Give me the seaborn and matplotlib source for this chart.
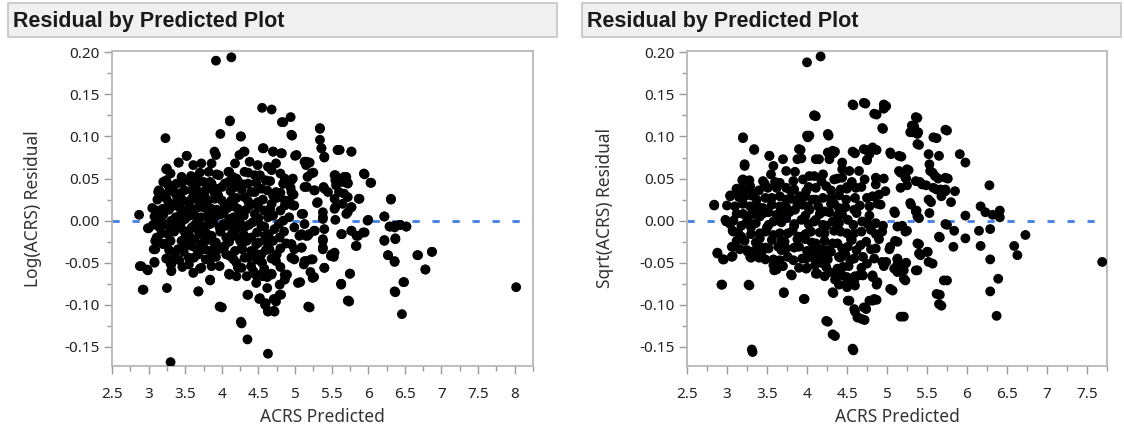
import matplotlib
matplotlib.use("Agg")
import matplotlib.pyplot as plt
from matplotlib.patches import Rectangle
from matplotlib.ticker import MultipleLocator, FuncFormatter
import seaborn as sns
import pandas as pd

# ---------------- data ----------------
panel_title = "Residual by Predicted Plot"
x_label = "ACRS Predicted"
y_label_log = "Log(ACRS) Residual"
y_label_sqrt = "Sqrt(ACRS) Residual"

# (ACRS predicted, Log(ACRS) residual)
log_points = [
    (3.92, 0.190), (4.13, 0.194), (4.55, 0.134), (4.68, 0.132), (4.11, 0.119),
    (3.98, 0.103), (3.23, 0.098), (4.26, 0.100), (4.82, 0.117), (4.94, 0.123),
    (4.96, 0.101), (5.34, 0.110), (5.34, 0.096), (5.36, 0.086), (5.40, 0.075),
    (5.58, 0.084), (5.77, 0.082), (4.57, 0.086), (4.70, 0.082), (4.82, 0.080),
    (3.90, 0.082), (3.92, 0.078), (4.30, 0.082), (5.00, 0.077), (3.24, 0.061),
    (3.52, 0.077), (3.41, 0.069), (5.95, 0.055), (6.04, 0.045), (6.31, 0.025),
    (6.22, 0.005), (5.99, 0.000), (5.55, 0.016), (5.87, 0.026), (5.77, 0.016),
    (5.70, 0.008), (5.55, 0.054), (5.55, 0.048), (5.67, 0.052), (5.72, 0.045),
    (5.60, 0.034), (5.67, 0.032), (5.26, 0.036), (5.39, 0.040), (5.45, 0.034),
    (5.30, 0.021), (5.38, 0.010), (5.38, 0.002), (5.55, 0.001), (6.30, -0.007),
    (6.36, -0.008), (6.44, -0.005), (6.52, -0.007), (6.22, -0.024), (6.37, -0.022),
    (6.27, -0.041), (6.36, -0.048), (6.67, -0.041), (6.87, -0.037), (6.78, -0.058),
    (6.36, -0.084), (6.48, -0.073), (6.46, -0.111), (8.02, -0.079), (5.93, -0.014),
    (5.84, -0.018), (5.77, -0.012), (5.83, -0.030), (5.64, -0.016), (5.75, -0.063),
    (5.73, -0.095), (5.63, -0.075), (5.40, -0.056), (5.38, -0.024), (5.38, -0.034),
    (5.50, -0.040), (5.53, -0.043), (5.20, -0.103), (5.26, -0.067), (5.21, -0.061),
    (5.24, -0.046), (5.13, -0.048), (5.07, -0.073), (5.12, -0.052), (5.19, -0.016),
    (5.17, -0.018), (5.26, -0.012), (5.11, 0.008), (4.99, 0.018), (4.98, 0.031),
    (4.94, 0.039), (4.97, 0.050), (4.87, 0.048), (4.84, 0.044), (4.86, 0.024),
    (5.17, 0.052), (5.25, 0.057), (5.16, 0.070), (5.20, 0.069), (5.16, 0.040),
    (5.09, -0.016), (4.95, -0.028), (4.99, -0.034), (5.09, -0.032), (4.99, -0.046),
    (4.87, -0.066), (4.89, -0.064), (4.79, -0.076), (4.79, -0.088), (4.71, -0.093),
    (4.60, -0.098), (4.63, -0.107), (4.71, -0.107), (4.51, -0.093), (4.00, -0.103),
    (4.26, -0.120), (4.35, -0.141), (4.63, -0.158), (3.30, -0.168), (3.25, -0.080),
    (2.92, -0.082), (2.88, -0.054), (2.98, -0.058), (3.08, -0.049), (2.87, 0.007),
    (3.00, -0.009), (3.09, -0.024), (3.07, -0.034), (3.13, 0.034), (3.24, 0.048),
    (3.27, 0.043), (3.30, -0.051), (3.31, -0.059), (3.68, -0.084), (3.84, -0.070),
    (4.35, -0.088), (4.10, -0.063), (4.68, -0.063), (4.55, -0.063),
    # dense core, left part
    (3.52, 0.077), (3.41, 0.069), (3.25, 0.062), (3.61, 0.066), (3.72, 0.068),
    (3.86, 0.068), (4.10, 0.058), (3.45, 0.052), (3.14, 0.036), (3.27, 0.042),
    (3.35, 0.034), (3.49, 0.036), (3.61, 0.040), (3.75, 0.046), (3.86, 0.044),
    (4.00, 0.040), (4.09, 0.046), (3.27, 0.022), (3.39, 0.024), (3.59, 0.026),
    (3.77, 0.028), (3.95, 0.030), (3.11, 0.012), (3.19, 0.014), (3.47, 0.012),
    (3.68, 0.016), (3.86, 0.014), (4.04, 0.018), (3.14, 0.000), (3.31, 0.000),
    (3.50, 0.002), (3.72, 0.004), (3.90, 0.004), (4.10, 0.002), (2.99, -0.009),
    (3.15, -0.008), (3.40, -0.007), (3.59, -0.008), (3.79, -0.006), (3.97, -0.008),
    (3.11, -0.020), (3.27, -0.016), (3.50, -0.020), (3.75, -0.018), (3.86, -0.018),
    (4.06, -0.020), (3.09, -0.034), (3.20, -0.028), (3.40, -0.034), (3.59, -0.030),
    (3.77, -0.034), (3.95, -0.034), (3.36, -0.042), (3.55, -0.044), (3.68, -0.040),
    (3.86, -0.044), (4.06, -0.040), (2.90, -0.054), (2.99, -0.059), (3.08, -0.050),
    (3.31, -0.052), (3.31, -0.060), (3.55, -0.052), (3.61, -0.062), (3.72, -0.056),
    (3.97, -0.054), (4.10, -0.064), (2.93, -0.082), (3.68, -0.084), (3.84, -0.071),
    (3.97, -0.102),
    (3.35, 0.018), (3.55, 0.020), (3.80, 0.022), (3.42, 0.006), (3.62, 0.008),
    (3.82, 0.010), (4.00, 0.008), (3.22, -0.004), (3.48, -0.012), (3.68, -0.012),
    (3.88, -0.002), (4.02, -0.004), (3.30, -0.024), (3.63, -0.022), (3.92, -0.026),
    (3.50, -0.030), (3.72, -0.028), (3.45, 0.045), (3.66, 0.052), (3.82, 0.058),
    (3.96, 0.054), (3.38, 0.030), (3.70, 0.034), (3.92, 0.038), (3.22, 0.028),
    # dense core, middle part
    (4.11, 0.118), (4.84, 0.117), (5.34, 0.109), (4.95, 0.102), (4.26, 0.100),
    (5.36, 0.086), (5.40, 0.076), (5.59, 0.084), (4.56, 0.086), (4.70, 0.082),
    (4.81, 0.080), (4.31, 0.082), (4.24, 0.078), (5.02, 0.078), (4.18, 0.068),
    (4.38, 0.070), (4.49, 0.066), (4.63, 0.064), (4.74, 0.068), (5.13, 0.070),
    (5.15, 0.066), (4.09, 0.058), (4.31, 0.058), (4.45, 0.054), (4.68, 0.060),
    (5.22, 0.056), (5.54, 0.054), (5.68, 0.052), (4.86, 0.050), (4.95, 0.048),
    (4.84, 0.044), (5.13, 0.040), (5.27, 0.036), (5.40, 0.038), (5.56, 0.042),
    (5.65, 0.046), (4.18, 0.040), (4.36, 0.044), (4.54, 0.038), (4.74, 0.034),
    (4.95, 0.034), (5.31, 0.022), (5.54, 0.026), (5.72, 0.028), (5.65, 0.020),
    (4.13, 0.024), (4.31, 0.028), (4.49, 0.022), (4.68, 0.020), (4.86, 0.018),
    (4.97, 0.018), (5.09, 0.008), (5.38, 0.004), (5.54, 0.014), (4.04, 0.012),
    (4.24, 0.006), (4.45, 0.008), (4.63, 0.004), (4.84, 0.000), (4.13, -0.004),
    (4.31, -0.008), (4.54, -0.006), (4.72, -0.010), (4.99, -0.008), (5.13, -0.004),
    (5.27, -0.012), (5.40, -0.010), (5.63, -0.016), (4.18, -0.018), (4.40, -0.020),
    (4.59, -0.018), (4.79, -0.020), (5.06, -0.018), (5.15, -0.018), (5.38, -0.022),
    (4.04, -0.030), (4.27, -0.032), (4.47, -0.028), (4.65, -0.034), (4.95, -0.028),
    (5.09, -0.032), (5.38, -0.032), (5.54, -0.038), (5.49, -0.042), (4.11, -0.042),
    (4.31, -0.044), (4.54, -0.040), (4.74, -0.048), (4.95, -0.044), (5.15, -0.048),
    (5.22, -0.046), (5.40, -0.056), (4.11, -0.064), (4.27, -0.056), (4.43, -0.060),
    (4.56, -0.066), (4.68, -0.064), (4.86, -0.064), (4.86, -0.070), (5.04, -0.074),
    (5.24, -0.068), (5.63, -0.076), (4.47, -0.074), (4.36, -0.088), (4.52, -0.092),
    (4.59, -0.100), (4.63, -0.108), (4.72, -0.108), (4.81, -0.088), (4.74, -0.096),
    (5.18, -0.102), (5.74, -0.096), (4.27, -0.122),
    (4.20, 0.050), (4.40, 0.034), (4.60, 0.048), (4.22, 0.014), (4.38, 0.018),
    (4.58, 0.012), (4.70, 0.030), (4.20, -0.010), (4.42, -0.002), (4.62, -0.026),
    (4.25, -0.024), (4.40, -0.036), (4.55, -0.050), (4.20, -0.050), (4.34, -0.066),
    (4.48, -0.046), (4.62, -0.080), (4.75, -0.040),
    # right-hand part
    (5.77, 0.082), (5.61, 0.084), (5.94, 0.056), (6.03, 0.045), (5.70, 0.052),
    (5.72, 0.044), (5.88, 0.026), (5.77, 0.016), (5.72, 0.010), (6.31, 0.026),
    (6.22, 0.005), (6.00, 0.001), (6.29, -0.007), (6.36, -0.006), (6.43, -0.005),
    (6.52, -0.007), (5.77, -0.012), (5.86, -0.018), (5.95, -0.014), (5.84, -0.030),
    (6.22, -0.023), (6.37, -0.021), (6.27, -0.041), (6.36, -0.049), (6.68, -0.041),
    (6.87, -0.037), (6.78, -0.058), (5.75, -0.063), (5.63, -0.075), (6.49, -0.073),
    (6.37, -0.085), (5.72, -0.095),
    # solid black centre of the cloud
    (3.30, 0.056), (3.58, 0.053), (3.70, 0.057), (3.93, 0.055), (4.15, 0.052),
    (4.36, 0.057), (4.52, 0.054), (4.80, 0.056),
    (3.20, 0.046), (3.38, 0.044), (3.56, 0.047), (3.65, 0.043), (3.84, 0.046),
    (4.04, 0.044), (4.22, 0.047), (4.30, 0.043), (4.47, 0.045), (4.66, 0.047),
    (4.90, 0.044),
    (3.16, 0.034), (3.29, 0.036), (3.44, 0.033), (3.60, 0.035), (3.79, 0.037),
    (3.90, 0.033), (4.12, 0.035), (4.27, 0.037), (4.45, 0.034), (4.62, 0.036),
    (4.80, 0.033),
    (3.12, 0.025), (3.24, 0.027), (3.47, 0.024), (3.64, 0.026), (3.72, 0.023),
    (3.90, 0.026), (4.00, 0.024), (4.20, 0.027), (4.36, 0.023), (4.56, 0.025),
    (4.75, 0.027), (4.92, 0.024),
    (3.05, 0.015), (3.28, 0.013), (3.42, 0.016), (3.58, 0.014), (3.75, 0.016),
    (3.93, 0.013), (4.08, 0.015), (4.17, 0.017), (4.33, 0.013), (4.50, 0.016),
    (4.66, 0.014), (4.80, 0.012),
    (3.08, 0.005), (3.20, 0.007), (3.37, 0.004), (3.56, 0.006), (3.66, 0.003),
    (3.80, 0.005), (3.96, 0.007), (4.16, 0.004), (4.30, 0.006), (4.50, 0.003),
    (4.70, 0.006), (4.92, 0.004),
    (3.06, -0.005), (3.27, -0.006), (3.44, -0.003), (3.63, -0.005), (3.72, -0.007),
    (3.84, -0.004), (4.06, -0.006), (4.25, -0.003), (4.37, -0.005), (4.58, -0.007),
    (4.78, -0.004),
    (3.18, -0.015), (3.35, -0.013), (3.55, -0.016), (3.70, -0.014), (3.80, -0.016),
    (3.98, -0.013), (4.14, -0.015), (4.30, -0.017), (4.48, -0.014), (4.64, -0.016),
    (4.85, -0.013),
    (3.14, -0.025), (3.24, -0.027), (3.45, -0.024), (3.56, -0.026), (3.80, -0.023),
    (3.90, -0.027), (4.10, -0.025), (4.34, -0.024), (4.50, -0.026), (4.70, -0.024),
    (4.88, -0.027),
    (3.28, -0.035), (3.48, -0.037), (3.66, -0.034), (3.84, -0.036), (4.02, -0.033),
    (4.18, -0.036), (4.28, -0.034), (4.44, -0.037), (4.60, -0.035), (4.80, -0.033),
    (3.24, -0.045), (3.42, -0.047), (3.62, -0.044), (3.78, -0.046), (3.92, -0.043),
    (4.16, -0.046), (4.36, -0.044), (4.52, -0.047), (4.68, -0.045),
    (3.46, -0.055), (3.70, -0.057), (3.86, -0.054), (4.22, -0.056), (4.40, -0.054),
    (4.58, -0.057), (4.80, -0.055),
    (4.20, -0.066), (4.46, -0.064), (4.62, -0.067),
]

# (ACRS predicted, Sqrt(ACRS) residual)
sqrt_points = [
    (4.00, 0.188), (4.17, 0.195), (4.58, 0.137), (4.73, 0.139), (4.99, 0.136),
    (4.96, 0.133), (4.87, 0.126), (4.11, 0.124), (4.95, 0.109), (5.38, 0.122),
    (5.34, 0.112), (5.32, 0.105), (5.39, 0.105), (5.40, 0.090), (5.75, 0.107),
    (5.62, 0.098), (5.91, 0.079), (5.98, 0.069), (5.65, 0.077), (3.20, 0.098),
    (3.34, 0.084), (4.01, 0.099), (4.27, 0.101), (3.22, 0.065), (3.53, 0.077),
    (3.92, 0.084), (3.88, 0.073), (4.33, 0.080), (4.35, 0.082), (4.60, 0.080),
    (4.74, 0.084), (4.87, 0.084), (4.75, 0.072), (5.05, 0.079), (5.18, 0.076),
    (5.17, 0.057), (5.27, 0.060), (5.24, 0.050), (5.25, 0.042), (5.53, 0.067),
    (5.57, 0.057), (5.64, 0.050), (5.76, 0.050), (5.41, 0.046), (5.49, 0.042),
    (5.62, 0.037), (5.73, 0.035), (5.85, 0.035), (5.68, 0.029), (5.80, 0.022),
    (5.55, 0.022), (5.53, 0.009), (5.98, 0.006), (6.17, 0.017), (6.28, 0.042),
    (6.23, 0.010), (6.32, 0.007), (6.41, 0.012), (6.41, 0.004), (6.29, -0.010),
    (6.15, -0.012), (6.17, -0.030), (5.98, -0.021), (5.84, -0.012), (5.75, -0.005),
    (5.66, -0.020), (5.83, -0.031), (6.73, -0.017), (6.59, -0.030), (6.63, -0.041),
    (6.29, -0.046), (6.39, -0.069), (6.29, -0.084), (6.37, -0.113), (7.69, -0.049),
    (5.75, -0.071), (5.66, -0.088), (5.68, -0.101), (5.57, -0.051), (5.51, -0.037),
    (5.42, -0.041), (5.40, -0.028), (5.38, -0.059), (5.24, -0.050), (5.13, -0.052),
    (5.13, -0.046), (5.21, -0.059), (5.23, -0.071), (5.07, -0.083), (5.21, -0.114),
    (5.30, 0.019), (5.37, 0.012), (5.40, 0.003), (5.10, 0.009), (5.19, -0.006),
    (5.25, -0.012), (5.10, -0.024), (5.03, -0.034), (4.99, -0.049), (4.96, -0.054),
    (4.87, -0.076), (4.82, -0.067), (4.87, -0.094), (4.82, -0.095), (4.74, -0.105),
    (4.72, -0.118), (4.64, -0.115), (4.60, -0.108), (4.53, -0.095), (4.50, -0.079),
    (4.60, -0.077), (4.60, -0.066), (4.58, -0.154), (4.35, -0.137), (4.26, -0.120),
    (4.33, -0.086), (3.97, -0.093), (4.00, -0.056), (4.13, -0.063), (3.81, -0.065),
    (3.71, -0.086), (3.32, -0.156), (3.28, -0.077), (2.94, -0.076), (2.88, -0.039),
    (2.96, -0.046), (3.07, -0.042), (3.08, -0.031), (3.26, -0.037), (3.30, -0.044),
    (2.84, 0.018), (3.04, 0.029), (2.99, -0.001), (3.07, -0.012), (3.12, -0.024),
    (3.19, 0.048), (3.26, 0.039), (3.12, 0.037), (3.34, 0.032), (3.47, 0.044),
    (3.59, -0.052), (3.62, -0.058), (3.48, -0.032),
    # dense core, left part
    (4.09, 0.125), (3.20, 0.099), (4.00, 0.101), (3.34, 0.085), (3.90, 0.085),
    (3.53, 0.077), (3.70, 0.073), (3.93, 0.074), (3.22, 0.067), (3.58, 0.065),
    (3.74, 0.059), (3.85, 0.058), (4.11, 0.073), (3.20, 0.049), (3.45, 0.047),
    (3.66, 0.045), (3.83, 0.047), (4.09, 0.053), (3.12, 0.038), (3.29, 0.041),
    (3.51, 0.039), (3.74, 0.039), (3.99, 0.035), (3.04, 0.030), (3.22, 0.029),
    (3.37, 0.025), (3.56, 0.027), (3.74, 0.025), (3.91, 0.029), (4.07, 0.025),
    (2.84, 0.019), (3.10, 0.017), (3.29, 0.017), (3.45, 0.015), (3.66, 0.017),
    (3.85, 0.013), (4.01, 0.017), (2.98, 0.001), (3.08, 0.000), (3.25, -0.001),
    (3.41, 0.005), (3.58, -0.001), (3.74, 0.003), (3.93, 0.001), (4.09, -0.001),
    (3.08, -0.013), (3.18, -0.019), (3.41, -0.015), (3.41, -0.021), (3.58, -0.017),
    (3.76, -0.015), (3.90, -0.019), (4.05, -0.013), (3.06, -0.031), (3.25, -0.035),
    (3.41, -0.031), (3.64, -0.031), (3.74, -0.033), (3.90, -0.031), (4.07, -0.035),
    (2.88, -0.038), (2.95, -0.046), (3.06, -0.043), (3.29, -0.043), (3.43, -0.039),
    (3.58, -0.053), (3.66, -0.047), (3.83, -0.047), (3.99, -0.045), (4.11, -0.047),
    (3.59, -0.059), (3.99, -0.057), (3.80, -0.064), (2.93, -0.076), (3.27, -0.076),
    (3.71, -0.085), (3.96, -0.093), (3.31, -0.153),
    (3.35, 0.008), (3.52, 0.010), (3.70, 0.008), (3.88, 0.020), (3.20, 0.008),
    (3.30, -0.008), (3.50, -0.008), (3.68, -0.024), (3.84, -0.004), (3.98, -0.022),
    (3.55, 0.055), (3.80, 0.035), (3.48, -0.046),
    # dense core, middle part
    (4.57, 0.138), (4.71, 0.140), (4.96, 0.138), (4.84, 0.127), (4.09, 0.125),
    (5.36, 0.123), (5.31, 0.113), (4.94, 0.110), (5.29, 0.105), (5.38, 0.103),
    (5.73, 0.108), (4.26, 0.103), (5.58, 0.099), (5.38, 0.091), (4.03, 0.101),
    (4.26, 0.081), (4.32, 0.083), (4.71, 0.085), (4.82, 0.087), (4.78, 0.079),
    (5.04, 0.081), (5.15, 0.077), (4.57, 0.082), (5.52, 0.079), (4.15, 0.073),
    (4.28, 0.073), (4.44, 0.069), (4.44, 0.061), (4.53, 0.059), (4.65, 0.059),
    (4.75, 0.072), (5.54, 0.059), (5.60, 0.053), (5.73, 0.051), (5.15, 0.059),
    (5.25, 0.061), (4.03, 0.053), (4.20, 0.055), (4.34, 0.049), (4.44, 0.051),
    (4.86, 0.051), (4.96, 0.050), (5.23, 0.051), (5.36, 0.047), (5.44, 0.043),
    (5.58, 0.039), (5.67, 0.037), (5.73, 0.037), (4.11, 0.039), (4.24, 0.041),
    (4.42, 0.037), (4.61, 0.039), (4.86, 0.043), (4.98, 0.035), (5.17, 0.039),
    (4.11, 0.025), (4.30, 0.027), (4.49, 0.025), (4.75, 0.027), (4.90, 0.031),
    (5.29, 0.021), (5.52, 0.025), (4.03, 0.013), (4.22, 0.011), (4.40, 0.015),
    (4.59, 0.013), (4.78, 0.017), (4.92, 0.019), (5.09, 0.011), (5.36, 0.011),
    (5.38, 0.005), (4.11, 0.001), (4.32, -0.001), (4.51, 0.001), (4.69, -0.001),
    (4.86, -0.003), (5.13, -0.007), (5.73, -0.004), (4.03, -0.013), (4.22, -0.015),
    (4.42, -0.013), (4.59, -0.015), (4.80, -0.011), (4.94, -0.013), (5.23, -0.013),
    (5.65, -0.019), (4.11, -0.027), (4.32, -0.027), (4.51, -0.031), (4.67, -0.029),
    (4.86, -0.033), (5.04, -0.031), (5.13, -0.025), (5.38, -0.027), (4.03, -0.043),
    (4.20, -0.041), (4.40, -0.043), (4.59, -0.045), (4.75, -0.051), (4.94, -0.049),
    (5.13, -0.045), (5.23, -0.051), (5.40, -0.039), (5.50, -0.037), (5.52, -0.049),
    (4.11, -0.063), (4.28, -0.061), (4.44, -0.065), (4.65, -0.065), (4.82, -0.065),
    (5.09, -0.057), (5.13, -0.061), (5.21, -0.069), (5.36, -0.059), (5.71, -0.071),
    (4.49, -0.075), (4.59, -0.073), (4.88, -0.073), (5.04, -0.081), (4.32, -0.085),
    (5.62, -0.087), (5.65, -0.099), (4.51, -0.095), (4.78, -0.095), (4.84, -0.093),
    (4.59, -0.105), (4.71, -0.103), (4.63, -0.115), (4.69, -0.117), (5.17, -0.114),
    (4.24, -0.119), (4.32, -0.135), (4.57, -0.152),
    (4.20, -0.005), (4.38, 0.006), (4.55, -0.022), (4.25, -0.035), (4.45, -0.055),
    (4.35, -0.070), (4.48, -0.040), (4.30, 0.020), (4.50, 0.040), (4.18, -0.050),
    # solid black centre of the cloud
    (3.28, 0.048), (3.60, 0.046), (3.95, 0.049), (4.18, 0.047), (4.38, 0.050),
    (4.56, 0.046), (4.72, 0.049),
    (3.18, 0.038), (3.40, 0.036), (3.62, 0.039), (3.84, 0.037), (4.02, 0.040),
    (4.30, 0.036), (4.50, 0.038), (4.68, 0.040),
    (3.15, 0.028), (3.30, 0.030), (3.48, 0.027), (3.66, 0.029), (3.80, 0.026),
    (3.98, 0.029), (4.20, 0.027), (4.40, 0.030), (4.60, 0.027), (4.82, 0.029),
    (3.00, 0.018), (3.20, 0.020), (3.38, 0.017), (3.56, 0.019), (3.74, 0.016),
    (3.94, 0.019), (4.14, 0.017), (4.34, 0.020), (4.48, 0.016), (4.66, 0.018),
    (4.88, 0.020),
    (3.12, 0.008), (3.28, 0.006), (3.46, 0.009), (3.62, 0.007), (3.78, 0.010),
    (3.98, 0.006), (4.16, 0.008), (4.28, 0.010), (4.44, 0.007), (4.62, 0.009),
    (4.78, 0.006),
    (3.04, -0.004), (3.18, -0.006), (3.36, -0.003), (3.52, -0.005), (3.68, -0.002),
    (3.84, -0.006), (4.02, -0.004), (4.24, -0.006), (4.40, -0.003), (4.58, -0.005),
    (4.76, -0.004), (4.95, -0.006),
    (3.14, -0.014), (3.30, -0.016), (3.48, -0.013), (3.66, -0.015), (3.82, -0.012),
    (3.98, -0.016), (4.16, -0.014), (4.34, -0.012), (4.50, -0.015), (4.68, -0.013),
    (4.86, -0.016),
    (3.22, -0.024), (3.36, -0.026), (3.56, -0.023), (3.72, -0.025), (3.88, -0.022),
    (4.06, -0.026), (4.22, -0.024), (4.38, -0.027), (4.56, -0.023), (4.74, -0.025),
    (4.90, -0.022),
    (3.16, -0.034), (3.34, -0.036), (3.52, -0.033), (3.68, -0.035), (3.84, -0.032),
    (4.00, -0.036), (4.18, -0.034), (4.30, -0.037), (4.44, -0.033), (4.62, -0.035),
    (4.80, -0.034),
    (3.40, -0.044), (3.58, -0.046), (3.76, -0.043), (3.94, -0.045), (4.14, -0.042),
    (4.26, -0.046), (4.42, -0.044), (4.54, -0.047), (4.70, -0.043), (4.84, -0.045),
    (3.70, -0.054), (3.90, -0.056), (4.10, -0.053), (4.24, -0.055), (4.38, -0.057),
    (4.52, -0.054), (4.68, -0.056),
    (4.22, -0.066), (4.36, -0.064), (4.50, -0.067), (4.70, -0.065),
    (4.40, -0.076), (4.56, -0.074),
]

# ---------------- figure ----------------
sns.set_theme(style="white")
plt.rcParams["font.family"] = ["Noto Sans", "DejaVu Sans"]

W, H = 1124, 433
fig = plt.figure(figsize=(W / 100, H / 100), dpi=100)
fig.patch.set_facecolor("white")


def frac_rect(x0, y0, x1, y1):
    return [x0 / W, 1 - y1 / H, (x1 - x0) / W, (y1 - y0) / H]


panels = [
    dict(points=log_points, ylabel=y_label_log, axpx=(112, 51, 533, 366),
         xlim=(2.5, 8.25), titlepx=(8, 3, 557, 37), ylab_x=33),
    dict(points=sqrt_points, ylabel=y_label_sqrt, axpx=(687, 51, 1107, 366),
         xlim=(2.5, 7.75), titlepx=(582, 3, 1121, 37), ylab_x=605),
]

text_col = "#222222"
for p in panels:
    # header bar
    tx0, ty0, tx1, ty1 = p["titlepx"]
    r = frac_rect(tx0, ty0, tx1, ty1)
    fig.patches.append(Rectangle((r[0], r[1]), r[2], r[3], transform=fig.transFigure,
                                 facecolor="#f0f0f0", edgecolor="#c4c4c4", linewidth=1.2,
                                 zorder=0))
    fig.text((tx0 + 5) / W, 1 - ((ty0 + ty1) / 2 + 1) / H, panel_title, fontsize=15.5,
             fontweight="bold", family=["Liberation Sans", "DejaVu Sans"],
             color="#1a1a1a", ha="left", va="center")

    ax = fig.add_axes(frac_rect(*p["axpx"]))
    df = pd.DataFrame(p["points"], columns=["pred", "resid"])
    ax.axhline(0, color="#3f7fe6", linewidth=2.0, dashes=(2.6, 4.6), zorder=1)
    sns.scatterplot(data=df, x="pred", y="resid", ax=ax, color="black", s=50,
                    edgecolor="none", linewidth=0, zorder=3, legend=False)

    ax.set_xlim(*p["xlim"])
    ax.set_ylim(-0.1726, 0.2015)
    ax.xaxis.set_major_locator(MultipleLocator(0.5))
    ax.xaxis.set_minor_locator(MultipleLocator(0.25))
    ax.yaxis.set_major_locator(MultipleLocator(0.05))
    ax.yaxis.set_minor_locator(MultipleLocator(0.025))
    ax.xaxis.set_major_formatter(FuncFormatter(lambda v, pos: f"{v:g}"))
    ax.yaxis.set_major_formatter(
        FuncFormatter(lambda v, pos: f"{0.0 if abs(v) < 1e-9 else v:.2f}"))
    ax.tick_params(axis="both", which="major", length=6, width=1.0, color="#9a9a9a",
                   labelsize=11, labelcolor=text_col, direction="out", pad=3)
    ax.tick_params(axis="x", which="major", pad=9)
    ax.tick_params(axis="both", which="minor", length=3.5, width=1.0, color="#9a9a9a",
                   direction="out")
    ax.tick_params(axis="x", which="both", bottom=True)
    ax.tick_params(axis="y", which="both", left=True)
    for s in ax.spines.values():
        s.set_color("#b8b8b8")
        s.set_linewidth(1.3)
    ax.set_xlabel("")
    ax.set_ylabel("")
    x0, y0, x1, y1 = p["axpx"]
    fig.text(((x0 + x1) / 2) / W, 1 - 417 / H, x_label, fontsize=12.5, color="#333333",
             ha="center", va="center")
    fig.text(p["ylab_x"] / W, 1 - ((y0 + y1) / 2) / H, p["ylabel"], fontsize=12.5,
             color="#333333", ha="center", va="center", rotation=90)

fig.savefig("out.png", dpi=100)
